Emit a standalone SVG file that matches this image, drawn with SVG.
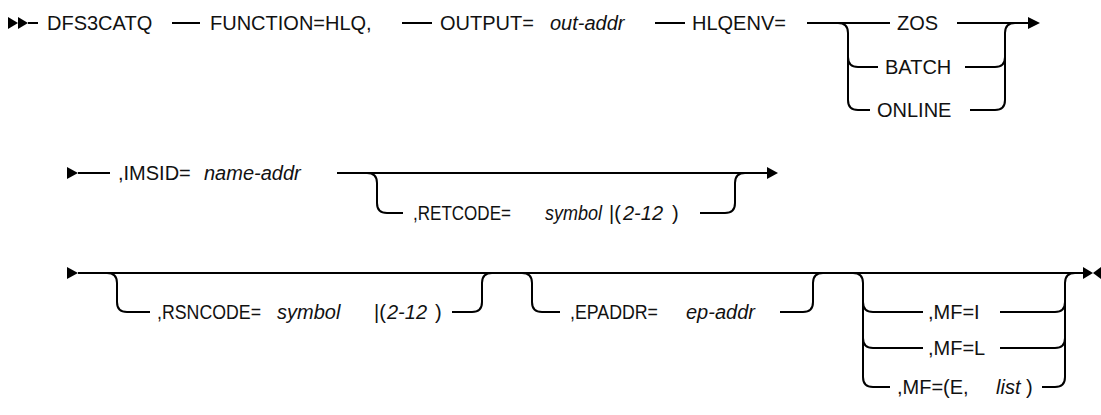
<svg xmlns="http://www.w3.org/2000/svg" width="1101" height="415" viewBox="0 0 1101 415">
<style>
.t{font-family:"Liberation Sans",Arial,sans-serif;font-size:20px;fill:#111}
.i{font-style:italic}
.ln{fill:none;stroke:#000;stroke-width:2}
.ah{fill:#000}
</style>
<rect width="1101" height="415" fill="#fff"/>
<g id="connectors">
<path class="ln" d="M28 23H38M172 23H200M402 23H432M655 23H685M807 23H890M957 23H1030"/>
<path class="ln" d="M838 23Q848 23 848 33V100Q848 110 858 110H870M848 57Q848 67 858 67H878"/>
<path class="ln" d="M965 67H995Q1005 67 1005 57M970 110H995Q1005 110 1005 100V33Q1005 23 1015 23"/>
<path class="ln" d="M78 173H110M337 173H769"/>
<path class="ln" d="M367 173Q377 173 377 183V203Q377 213 387 213H403M700 213H725Q735 213 735 203V183Q735 173 745 173"/>
<path class="ln" d="M78 273H1085"/>
<path class="ln" d="M107 273Q117 273 117 283V302Q117 312 127 312H150M452 312H472Q482 312 482 302V283Q482 273 492 273"/>
<path class="ln" d="M522 273Q532 273 532 283V302Q532 312 542 312H560M780 312H803Q813 312 813 302V283Q813 273 823 273"/>
<path class="ln" d="M853 273Q863 273 863 283V377Q863 387 873 387H890M863 302Q863 312 873 312H923M863 338Q863 348 873 348H923"/>
<path class="ln" d="M1000 312H1055Q1065 312 1065 302M1000 348H1055Q1065 348 1065 338M1042 387H1055Q1065 387 1065 377V283Q1065 273 1075 273"/>
<polygon class="ah" points="8,17 18,23 8,29"/>
<polygon class="ah" points="18,17 28,23 18,29"/>
<polygon class="ah" points="1028,17 1040,23 1028,29"/>
<polygon class="ah" points="67,167 78,173 67,179"/>
<polygon class="ah" points="767,167 778,173 767,179"/>
<polygon class="ah" points="67,267 78,273 67,279"/>
<polygon class="ah" points="1083,267 1093,273 1083,279"/>
<polygon class="ah" points="1101,267 1093,273 1101,279"/>
</g>
<g id="n-dfs3catq"><text class="t" x="47" y="30">DFS3CATQ</text></g>
<g id="n-function"><text class="t" x="210" y="30">FUNCTION=HLQ,</text></g>
<g id="n-output"><text class="t" x="440" y="30">OUTPUT=</text><text class="t i" x="550" y="30">out-addr</text></g>
<g id="n-hlqenv"><text class="t" x="692" y="30">HLQENV=</text></g>
<g id="n-zos"><text class="t" x="897" y="30">ZOS</text></g>
<g id="n-batch"><text class="t" x="885" y="74">BATCH</text></g>
<g id="n-online"><text class="t" x="877" y="117">ONLINE</text></g>
<g id="n-imsid"><text class="t" x="118" y="180">,IMSID=</text><text class="t i" x="204" y="180">name-addr</text></g>
<g id="n-retcode"><text class="t" x="413" y="220" textLength="98" lengthAdjust="spacingAndGlyphs">,RETCODE=</text><text class="t i" x="545" y="220" textLength="57" lengthAdjust="spacingAndGlyphs">symbol</text><text class="t" x="609" y="220">|(</text><text class="t i" x="623" y="220">2-12</text><text class="t" x="672" y="220">)</text></g>
<g id="n-rsncode"><text class="t" x="157" y="319" textLength="104" lengthAdjust="spacingAndGlyphs">,RSNCODE=</text><text class="t i" x="277" y="319">symbol</text><text class="t" x="374" y="319">|(</text><text class="t i" x="387" y="319">2-12</text><text class="t" x="435" y="319">)</text></g>
<g id="n-epaddr"><text class="t" x="570" y="319" textLength="88" lengthAdjust="spacingAndGlyphs">,EPADDR=</text><text class="t i" x="686" y="319">ep-addr</text></g>
<g id="n-mfi"><text class="t" x="928" y="319">,MF=I</text></g>
<g id="n-mfl"><text class="t" x="928" y="355">,MF=L</text></g>
<g id="n-mfe"><text class="t" x="897" y="394">,MF=(E,</text><text class="t i" x="996" y="394">list</text><text class="t" x="1026" y="394">)</text></g>
</svg>
